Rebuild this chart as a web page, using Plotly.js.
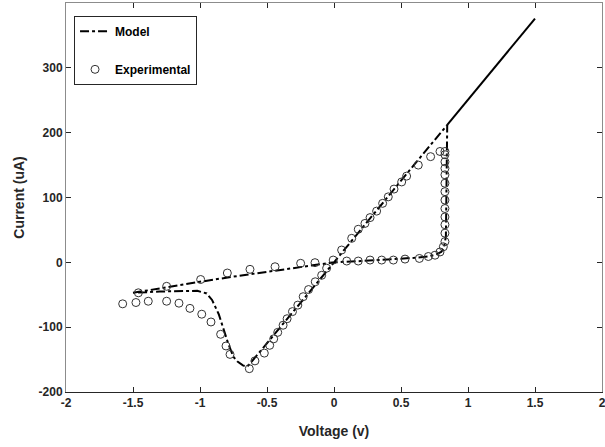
<!DOCTYPE html>
<html>
<head>
<meta charset="utf-8">
<script src="https://cdn.plot.ly/plotly-3.0.1.min.js"></script>
<style>html,body{margin:0;padding:0;background:#fff;}#chart{width:605px;height:447px;}</style>
</head>
<body>
<div id="chart"></div>
<script>
// Model curve (dash-dot), traced around the loop
const modelV = [-1.5, -1.25, -1.0, -0.75, -0.5, -0.25, 0, 0.2, 0.4, 0.6, 0.7, 0.76, 0.8, 0.82, 0.835, 0.84, 0.845,
  0.6, 0.3, 0, -0.3, -0.55, -0.6, -0.63, -0.65, -0.68, -0.72, -0.75, -0.79, -0.83, -0.86, -0.91, -0.95, -1.02, -1.15, -1.3, -1.5];
const modelI = [-47, -38, -30, -22, -14.5, -7, 0, 2, 4, 7, 9, 12, 16, 22, 40, 120, 212,
  151, 75, 0, -75, -138, -150, -157, -161, -159, -153, -146, -125, -99, -80, -58, -48, -44, -44, -45, -47];
// Model high-conductance segment (forward and return paths overlap -> solid)
const modelHighV = [0.845, 1.5];
const modelHighI = [212, 376];

// Experimental data (open circles)
const expV = [-1.577, -1.478, -1.386, -1.249, -1.157, -1.075, -0.987, -0.918, -0.846, -0.806, -0.776, -0.632, -0.59, -0.52,
  -0.48, -0.45, -0.42, -0.38, -0.35, -0.31, -0.27, -0.23, -0.19, -0.14, -0.092, -0.055, -0.006,
  0.057, 0.132, 0.181, 0.231, 0.269, 0.318, 0.363, 0.405, 0.448, 0.505, 0.542, 0.629, 0.721, 0.791,
  0.828, 0.828, 0.828, 0.828, 0.828, 0.828, 0.828, 0.828, 0.828, 0.828, 0.828, 0.828, 0.828,
  0.816, 0.791, 0.754, 0.704, 0.637, 0.53, 0.443, 0.356, 0.269, 0.181, 0.095,
  -0.142, -0.249, -0.44, -0.627, -0.796, -0.995, -1.249, -1.46];
const expI = [-64, -62, -60, -60, -63, -71, -80, -92, -111, -129, -142, -164, -152, -140,
  -128, -118, -108, -97, -87, -76, -66, -53, -42, -30, -20, -9, 3.5,
  19, 37, 51, 60, 69, 79, 91, 101, 113, 124, 133, 150, 163, 171,
  171, 166, 155, 145, 135, 122, 109, 96, 83, 70, 58, 45, 32,
  24, 16, 11, 9, 6, 5, 3.5, 3.5, 3.5, 2, 2,
  -0.5, -1.5, -6.8, -10.8, -16.5, -26.5, -37, -47];

const xTicks = [-2, -1.5, -1, -0.5, 0, 0.5, 1, 1.5, 2];
const xTickText = ['-2', '-1.5', '-1', '-0.5', '0', '0.5', '1', '1.5', '2'];
const yTicks = [-200, -100, 0, 100, 200, 300];
const yTickText = ['-200', '-100', '0', '100', '200', '300'];

const FONT = 'Liberation Sans, Arial, Helvetica, sans-serif';

const traces = [
  {x: modelV, y: modelI, mode: 'lines', name: '<b>Model</b>', legendgroup: 'a',
   line: {color: '#000', width: 2, dash: 'dashdot'}},
  {x: modelHighV, y: modelHighI, mode: 'lines', showlegend: false, legendgroup: 'a',
   line: {color: '#000', width: 2}},
  {x: expV, y: expI, mode: 'markers', name: '<b>Experimental</b>', legendgroup: 'b',
   marker: {symbol: 'circle-open', size: 8, color: '#333', line: {width: 1, color: '#333'}}},
  {x: [], y: [], xaxis: 'x2', showlegend: false, hoverinfo: 'skip'}
];

const layout = {
  width: 605, height: 447,
  margin: {l: 66, r: 3, t: 3, b: 55},
  paper_bgcolor: '#fff', plot_bgcolor: '#fff',
  font: {family: FONT, size: 12, color: '#262626'},
  showlegend: true,
  legend: {x: 0.015, y: 0.967, xanchor: 'left', yanchor: 'top',
    bgcolor: '#fff', bordercolor: '#262626', borderwidth: 1,
    font: {family: FONT, size: 12, color: '#000'},
    traceorder: 'grouped', tracegroupgap: 19},
  xaxis: {range: [-2, 2], tickvals: xTicks, ticktext: xTickText,
    showgrid: false, zeroline: false, showline: true, linecolor: '#262626', linewidth: 1,
    ticks: 'inside', ticklen: 5, tickcolor: '#262626', mirror: false, ticklabeloverflow: 'allow',
    tickfont: {family: FONT, size: 12, color: '#262626', weight: 'bold'},
    title: {text: '<b>Voltage (v)</b>', font: {family: FONT, size: 14, color: '#262626'}, standoff: 16}},
  xaxis2: {range: [-2, 2], overlaying: 'x', side: 'top', tickvals: xTicks, showticklabels: false,
    showgrid: false, zeroline: false, showline: true, linecolor: '#8c8c8c', linewidth: 1,
    ticks: 'inside', ticklen: 5, tickcolor: '#262626'},
  yaxis: {range: [-200, 400], tickvals: yTicks, ticktext: yTickText,
    showgrid: false, zeroline: false, showline: true, linecolor: '#8c8c8c', linewidth: 1,
    ticks: 'inside', ticklen: 5, tickcolor: '#262626', mirror: 'ticks',
    tickfont: {family: FONT, size: 12, color: '#262626', weight: 'bold'},
    title: {text: '<b>Current (uA)</b>', font: {family: FONT, size: 14, color: '#262626'}, standoff: 10}}
};

Plotly.newPlot('chart', traces, layout, {displayModeBar: false, staticPlot: true});
</script>
</body>
</html>
